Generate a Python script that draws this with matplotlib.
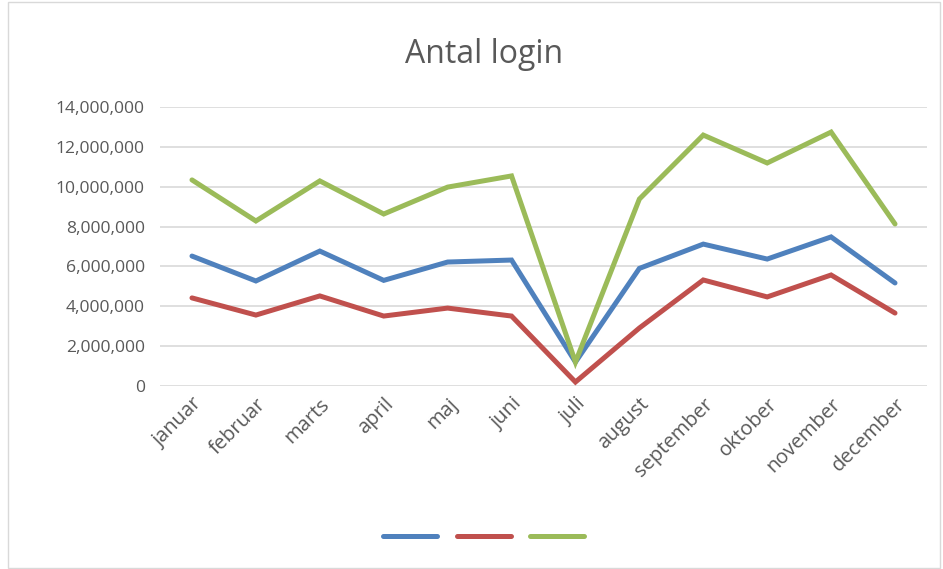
import matplotlib
matplotlib.use("Agg")
import matplotlib.pyplot as plt
from matplotlib.ticker import FuncFormatter
from matplotlib.patches import Rectangle
from matplotlib.lines import Line2D

# data
months = ["januar", "februar", "marts", "april", "maj", "juni", "juli",
          "august", "september", "oktober", "november", "december"]
blue = [6520000, 5270000, 6770000, 5300000, 6220000, 6320000, 1200000,
        5900000, 7120000, 6370000, 7480000, 5170000]
red = [4420000, 3560000, 4520000, 3510000, 3910000, 3510000, 200000,
       2910000, 5320000, 4470000, 5570000, 3660000]
green = [10340000, 8280000, 10290000, 8630000, 9980000, 10540000, 1200000,
         9380000, 12590000, 11190000, 12740000, 8130000]
colors = ["#4F81BD", "#C0504D", "#9BBB59"]

plt.rcParams['font.family'] = ['Open Sans', 'DejaVu Sans']

fig = plt.figure(figsize=(9.43, 5.69), dpi=100)
ax = fig.add_axes([0.1697, 0.3216, 0.8133, 0.4904])

x = list(range(len(months)))
for vals, c in zip([blue, red, green], colors):
    ax.plot(x, vals, color=c, lw=3.6, solid_capstyle='round', solid_joinstyle='miter')

ax.set_xlim(-0.5, len(months) - 0.5)
ax.set_ylim(0, 14000000)
ax.set_yticks(range(0, 14000001, 2000000))
ax.yaxis.set_major_formatter(FuncFormatter(lambda v, p: f"{int(v):,}"))
ax.grid(axis='y', color='#D9D9D9', lw=1.2)
ax.set_axisbelow(True)
for s in ax.spines.values():
    s.set_visible(False)
ax.tick_params(axis='both', length=0, colors='#595959')
ax.tick_params(axis='y', pad=11, labelsize=12.6)
ax.set_xticks(x)
ax.set_xticklabels(months, rotation=45, ha='right', rotation_mode='anchor')
ax.tick_params(axis='x', pad=6, labelsize=14.5)

fig.text(0.513, 0.905, "Antal login", ha='center', va='center', fontsize=23, color='#595959')

handles = [Line2D([0], [0], color=c, lw=3.6, solid_capstyle='round') for c in colors]
fig.legend(handles, ["", "", ""], loc='center', bbox_to_anchor=(0.513, 0.056),
           ncol=3, frameon=False, handlelength=3.9, handletextpad=0, columnspacing=1.4)

fig.patches.append(Rectangle((0.009, 0.002), 0.988, 0.995, transform=fig.transFigure,
                             fill=False, edgecolor='#D9D9D9', lw=1))

fig.savefig("out.png", dpi=100, facecolor='white')
